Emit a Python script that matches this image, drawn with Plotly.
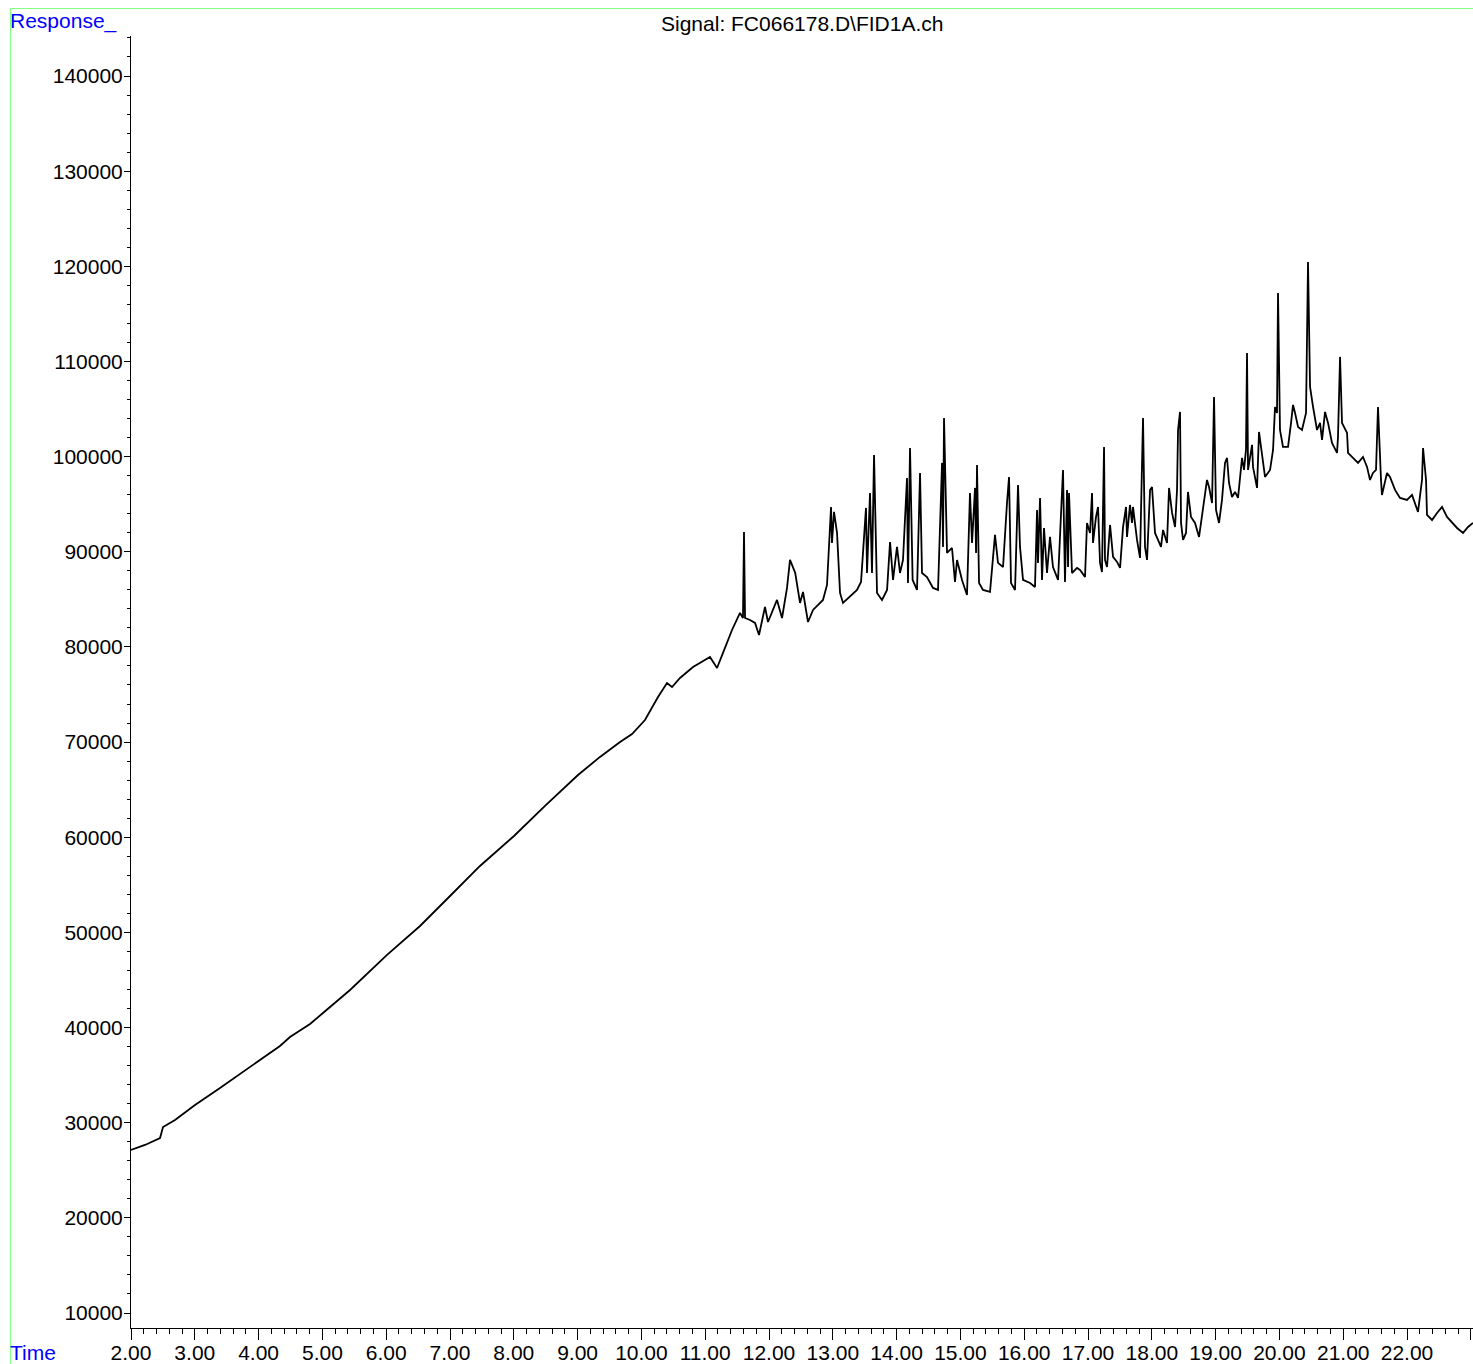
import plotly.graph_objects as go

# ---- data (time in min, response) ----
t_base = [2.000, 2.219, 2.455, 2.502, 2.690, 3.003, 3.395, 3.708, 4.006, 4.335, 4.492, 4.806,
          5.009, 5.433, 6.013, 6.530, 7.016, 7.470, 8.003, 8.489, 9.006, 9.351, 9.665, 9.853,
          10.056, 10.260, 10.401, 10.480, 10.605, 10.809, 11.075, 11.185, 11.279, 11.420, 11.545]
r_base = [27130, 27660, 28390, 29550, 30280, 31860, 33650, 35120, 36590, 38060, 39010, 40370,
          41530, 43950, 47630, 50670, 53930, 56980, 60130, 63290, 66540, 68440, 70010, 70850,
          72320, 74740, 76210, 75790, 76740, 77890, 78950, 77790, 79370, 81780, 83570]

t_seg2 = [11.592, 11.608, 11.624, 11.702, 11.781, 11.843, 11.937, 11.984, 12.125, 12.204,
          12.282, 12.329, 12.411, 12.486, 12.533, 12.611, 12.690, 12.846, 12.909, 12.972,
          12.987, 13.019, 13.066, 13.113, 13.160, 13.379, 13.442, 13.473, 13.520, 13.536,
          13.583, 13.614, 13.646, 13.693, 13.771, 13.850, 13.897, 13.944, 14.006, 14.053,
          14.100, 14.163, 14.178, 14.210, 14.251, 14.320, 14.367, 14.398, 14.476]
r_seg2 = [83040, 92080, 83040, 82830, 82520, 81260, 84200, 82620, 84940, 83040,
          86200, 89140, 87770, 84620, 85780, 82620, 83890, 84940, 86510, 94710,
          90930, 94190, 91980, 85670, 84620, 85990, 86830, 89880, 94610, 87770,
          96180, 87770, 100180, 85670, 84940, 85990, 91030, 87040, 90510, 87770,
          89140, 97760, 86720, 100910, 87040, 85990, 98280, 87770, 87350]

t_seg3 = [14.571, 14.649, 14.712, 14.727, 14.743, 14.790, 14.868, 14.915, 14.947, 15.025,
          15.103, 15.150, 15.182, 15.229, 15.245, 15.260, 15.292, 15.354, 15.464, 15.542,
          15.589, 15.668, 15.730, 15.762, 15.793, 15.856, 15.903, 15.934, 15.981, 16.091,
          16.169, 16.201, 16.216, 16.248, 16.279, 16.310, 16.357, 16.404, 16.451, 16.530,
          16.608, 16.639, 16.671, 16.687, 16.702, 16.749, 16.828, 16.875, 16.953]
r_seg3 = [86200, 85990, 99340, 90510, 104060, 89880, 90400, 86830, 89140, 87040,
          85460, 96180, 90930, 96710, 89880, 99120, 86720, 85990, 85780, 91770,
          88830, 88400, 95130, 97860, 86720, 85990, 97020, 90510, 87040, 86720,
          86300, 94400, 88830, 95660, 87040, 92500, 87770, 91560, 88400, 87040,
          98600, 86830, 96500, 88400, 96180, 87770, 88300, 88090, 87350]

t_seg4 = [16.984, 17.031, 17.063, 17.078, 17.125, 17.157, 17.188, 17.219, 17.251, 17.266,
          17.298, 17.345, 17.392, 17.455, 17.502, 17.549, 17.596, 17.611, 17.658, 17.690,
          17.705, 17.768, 17.815, 17.862, 17.893, 17.925, 17.972, 18.003, 18.050, 18.097,
          18.144, 18.176, 18.238, 18.270, 18.317, 18.364, 18.395, 18.411, 18.442, 18.458,
          18.489, 18.536, 18.567, 18.614, 18.677, 18.740, 18.803, 18.865, 18.897, 18.944,
          18.975, 19.006, 19.053, 19.100, 19.147, 19.179, 19.210, 19.257, 19.304, 19.351,
          19.414, 19.445, 19.476, 19.492, 19.508]
r_seg4 = [93030, 91980, 96180, 90930, 93660, 94710, 88830, 87880, 101020, 89140,
          88400, 92820, 89460, 88930, 88300, 92610, 94710, 91560, 94920, 93030,
          94710, 91240, 89350, 104060, 90510, 89140, 96500, 96810, 91980, 91240,
          90510, 92290, 90930, 96710, 94080, 92610, 96500, 102800, 104700, 93030,
          91240, 91980, 96290, 93660, 93030, 91560, 94400, 97550, 96810, 95130,
          106270, 94400, 93030, 95450, 99340, 99860, 97230, 95760, 96290, 95660,
          99860, 98600, 100700, 110900, 98600]

t_seg5 = [19.571, 19.586, 19.649, 19.680, 19.727, 19.774, 19.853, 19.900, 19.931, 19.962,
          19.978, 20.009, 20.056, 20.135, 20.182, 20.213, 20.245, 20.292, 20.354, 20.417,
          20.448, 20.480, 20.527, 20.589, 20.636, 20.668, 20.715, 20.762, 20.824, 20.903,
          20.918, 20.950, 20.981, 21.028, 21.060, 21.075, 21.154, 21.232, 21.310, 21.373,
          21.420, 21.466, 21.514, 21.545, 21.592, 21.607, 21.686, 21.733, 21.812, 21.890,
          22.000, 22.078, 22.172, 22.235, 22.251, 22.298, 22.313, 22.392, 22.470, 22.549,
          22.627, 22.705, 22.784, 22.878, 22.956, 23.034]
r_seg5 = [101230, 98920, 96710, 102590, 99970, 97860, 98600, 100700, 105220, 104590,
          117200, 102800, 101020, 101020, 103540, 105430, 104590, 103120, 102800, 104590,
          120460, 107320, 105220, 102800, 103540, 101750, 104700, 103540, 101440, 100390,
          102070, 110480, 103540, 102800, 102490, 100390, 99860, 99340, 99970, 98920,
          97550, 98280, 98600, 105220, 97550, 95970, 98280, 97860, 96500, 95660,
          95450, 95970, 94190, 97550, 100910, 97550, 93870, 93340, 94080, 94710,
          93660, 93030, 92500, 91980, 92610, 93030]

x_tick_values = list(range(2, 24))
x_tick_labels = [f"{v:.2f}" for v in range(2, 23)] + [""]
y_tick_values = list(range(10000, 150000, 10000))
y_tick_labels = [str(v) for v in y_tick_values]

title_text = "Signal: FC066178.D\\FID1A.ch"
y_label = "Response_"
x_label = "Time"

times = t_base + t_seg2 + t_seg3 + t_seg4 + t_seg5
resp = r_base + r_seg2 + r_seg3 + r_seg4 + r_seg5

FONT = "Liberation Sans, Arial, sans-serif"
W, H = 1473, 1364
L, R, T, B = 131, 0, 36, 36
pw, ph = W - L - R, H - T - B


def px(xp):
    return (xp - L) / pw


def py(yp):
    return (H - B - yp) / ph


fig = go.Figure()
fig.add_trace(go.Scatter(x=times, y=resp, mode="lines",
                         line=dict(color="black", width=1.8), hoverinfo="x+y",
                         showlegend=False))

fig.update_layout(
    width=W, height=H,
    margin=dict(l=L, r=R, t=T, b=B, pad=0, autoexpand=False),
    paper_bgcolor="white", plot_bgcolor="white",
    font=dict(family=FONT, size=21, color="black"),
    xaxis=dict(range=[2.0, 23.034], showgrid=False, zeroline=False, automargin=False,
               showline=True, linecolor="black", linewidth=1,
               ticks="outside", ticklen=11, tickwidth=1, tickcolor="black",
               tickvals=x_tick_values, ticktext=x_tick_labels, ticklabelstandoff=-5,
               tickfont=dict(family=FONT, size=21, color="black"),
               minor=dict(ticks="outside", ticklen=5, tickwidth=1, tickcolor="black",
                          dtick=0.2, tick0=0, showgrid=False),
               fixedrange=True),
    yaxis=dict(range=[8424, 144204], showgrid=False, zeroline=False, automargin=False,
               showline=True, linecolor="black", linewidth=1,
               ticks="outside", ticklen=6, tickwidth=1, tickcolor="black",
               tickvals=y_tick_values, ticktext=y_tick_labels, ticklabelstandoff=-3,
               tickfont=dict(family=FONT, size=21, color="black"),
               minor=dict(ticks="outside", ticklen=3, tickwidth=1, tickcolor="black",
                          dtick=2000, tick0=0, showgrid=False),
               fixedrange=True),
    shapes=[
        dict(type="line", xref="paper", yref="paper",
             x0=px(10.5), x1=px(10.5), y0=py(H + 2), y1=py(8.5),
             line=dict(color="#80FF80", width=1), layer="above"),
        dict(type="line", xref="paper", yref="paper",
             x0=px(10.5), x1=px(W + 2), y0=py(8.5), y1=py(8.5),
             line=dict(color="#80FF80", width=1), layer="above"),
    ],
    annotations=[
        dict(text=title_text, xref="paper", yref="paper", x=0.5, y=py(23),
             xanchor="center", yanchor="middle", showarrow=False,
             font=dict(family=FONT, size=21, color="black")),
        dict(text=y_label, xref="paper", yref="paper", x=px(8), y=py(21),
             xanchor="left", yanchor="middle", showarrow=False,
             font=dict(family=FONT, size=21, color="#0000FF")),
        dict(text=x_label, xref="paper", yref="paper", x=px(8), y=py(1352),
             xanchor="left", yanchor="middle", showarrow=False,
             font=dict(family=FONT, size=21, color="#0000FF")),
    ],
)

fig.write_html("out.html", config={"displayModeBar": False},
               post_script="document.body.style.margin='0px';document.body.style.overflow='hidden';")
